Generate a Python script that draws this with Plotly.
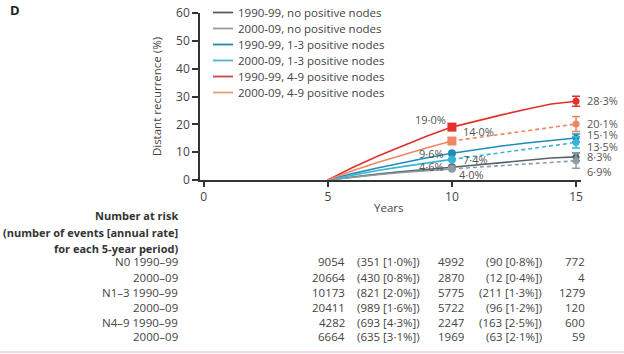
import plotly.graph_objects as go

# ---------------- data ----------------
years_a = [5, 6, 7, 8, 9, 10]
years_b = [10, 11, 12, 13, 14, 15]

series_names = [
    "1990-99, no positive nodes",
    "2000-09, no positive nodes",
    "1990-99, 1-3 positive nodes",
    "2000-09, 1-3 positive nodes",
    "1990-99, 4-9 positive nodes",
    "2000-09, 4-9 positive nodes",
]
# cumulative distant recurrence (%), years 5..10 and 10..15
n0_1990_a = [0, 1.1, 2.1, 3.0, 3.9, 4.6]
n0_1990_b = [4.6, 5.4, 6.3, 7.2, 7.9, 8.3]
n0_2000_a = [0, 1.0, 1.9, 2.7, 3.4, 4.0]
n0_2000_b = [4.0, 4.6, 5.2, 5.8, 6.4, 6.9]
n13_1990_a = [0, 2.3, 4.3, 6.2, 8.0, 9.6]
n13_1990_b = [9.6, 11.0, 12.2, 13.3, 14.3, 15.1]
n13_2000_a = [0, 1.8, 3.4, 4.8, 6.2, 7.4]
n13_2000_b = [7.4, 8.6, 9.8, 11.0, 12.3, 13.5]
n49_1990_a = [0, 4.5, 8.5, 12.2, 15.8, 19.0]
n49_1990_b = [19.0, 21.3, 23.4, 25.4, 27.3, 28.3]
n49_2000_a = [0, 3.3, 6.3, 9.0, 11.6, 14.0]
n49_2000_b = [14.0, 15.2, 16.4, 17.6, 18.8, 20.1]

curves_a = [n0_1990_a, n0_2000_a, n13_1990_a, n13_2000_a, n49_1990_a, n49_2000_a]
curves_b = [n0_1990_b, n0_2000_b, n13_1990_b, n13_2000_b, n49_1990_b, n49_2000_b]
is_recent = [False, True, False, True, False, True]

# error (half-width, %) at year 15
err15 = [1.4, 2.7, 1.4, 2.0, 1.8, 2.7]

labels10 = ["4·6%", "4·0%", "9·6%", "7·4%", "19·0%", "14·0%"]
labels15 = ["8·3%", "6·9%", "15·1%", "13·5%", "28·3%", "20·1%"]

x_ticks = [0, 5, 10, 15]
y_ticks = [0, 10, 20, 30, 40, 50, 60]

risk_row_labels = ["N0 1990–99", "2000–09", "N1–3 1990–99", "2000–09", "N4–9 1990–99", "2000–09"]
risk_at0 = ["9054", "20664", "10173", "20411", "4282", "6664"]
events_0_5 = ["(351 [1·0%])", "(430 [0·8%])", "(821 [2·0%])", "(989 [1·6%])", "(693 [4·3%])", "(635 [3·1%])"]
risk_at5 = ["4992", "2870", "5775", "5722", "2247", "1969"]
events_5_10 = ["(90 [0·8%])", "(12 [0·4%])", "(211 [1·3%])", "(96 [1·2%])", "(163 [2·5%])", "(63 [2·1%])"]
risk_at10 = ["772", "4", "1279", "120", "600", "59"]

# ---------------- style ----------------
colors = ["#56646c", "#8e9ca4", "#1f8db5", "#38b4d8", "#e0312b", "#f08563"]
legend_colors = ["#5a5a5a", "#9a9a9a", "#1f8aa8", "#4ab6d6", "#c9473f", "#eb9a7c"]
marker10 = ["circle", "circle", "circle", "circle", "square", "square"]
FONT = "Open Sans"
TXT = "#444444"

W, H = 624, 354
L, R, T, B = 200, 43, 13, 174
PW, PH = W - L - R, H - T - B


def px(xp):
    return (xp - L) / PW


def py(yp):
    return (H - B - yp) / PH


fig = go.Figure()

for i, name in enumerate(series_names):
    c = colors[i]
    fig.add_trace(go.Scatter(x=years_a, y=curves_a[i], mode="lines", name=name,
                             line=dict(color=c, width=1.6), showlegend=False))
    fig.add_trace(go.Scatter(x=years_b, y=curves_b[i], mode="lines", showlegend=False,
                             line=dict(color=c, width=1.6, dash="4px,3px" if is_recent[i] else "solid"),
                             hoverinfo="skip"))
    fig.add_trace(go.Scatter(x=[years_b[0]], y=[curves_b[i][0]], mode="markers", showlegend=False,
                             marker=dict(color=c, size=9 if marker10[i] == "square" else 8,
                                         symbol=marker10[i])))
    fig.add_trace(go.Scatter(x=[years_b[-1]], y=[curves_b[i][-1]], mode="markers", showlegend=False,
                             marker=dict(color=c, size=7, symbol="circle"),
                             error_y=dict(type="data", array=[err15[i]], color=c, thickness=1.5, width=4)))

# manual legend (16 px rows)
for i, name in enumerate(series_names):
    yy = 12.5 + 16 * i
    fig.add_shape(type="line", xref="paper", yref="paper", x0=px(213), x1=px(233), y0=py(yy), y1=py(yy),
                  line=dict(color=legend_colors[i], width=1.8))
    fig.add_annotation(x=px(236), y=py(yy), xref="paper", yref="paper", text=name, showarrow=False,
                       xanchor="left", yanchor="middle",
                       font=dict(family=FONT, size=11.5, color=TXT))

# point labels
off10 = [(-6, 1, "right"), (5, -6, "left"), (-6, 0, "right"), (9, 0, "left"), (-4, 8, "right"), (9, 10, "left")]
off15 = [(9, 0, "left"), (9, -11, "left"), (9, 3, "left"), (9, -4, "left"), (9, 1, "left"), (9, 1, "left")]
for i in range(6):
    dx, dy, anc = off10[i]
    fig.add_annotation(x=years_b[0], y=curves_b[i][0], text=labels10[i], showarrow=False,
                       xanchor=anc, yanchor="middle", xshift=dx, yshift=dy,
                       font=dict(family=FONT, size=11, color="#555555"))
    dx, dy, anc = off15[i]
    fig.add_annotation(x=years_b[-1], y=curves_b[i][-1], text=labels15[i], showarrow=False,
                       xanchor=anc, yanchor="middle", xshift=dx, yshift=dy,
                       font=dict(family=FONT, size=11, color="#555555"))

# panel letter
fig.add_annotation(x=px(8), y=py(10), xref="paper", yref="paper", text="<b>D</b>", showarrow=False,
                   xanchor="left", yanchor="middle", font=dict(family=FONT, size=13, color="#222222"))

# Years label
fig.add_annotation(x=px(388), y=py(207), xref="paper", yref="paper", text="Years", showarrow=False,
                   xanchor="center", yanchor="middle", font=dict(family=FONT, size=11.5, color=TXT))

# number at risk table
header = ["Number at risk", "(number of events [annual rate]", "for each 5-year period)"]
header_y = [215, 232, 248]
for t, yy in zip(header, header_y):
    fig.add_annotation(x=px(180), y=py(yy), xref="paper", yref="paper", text="<b>" + t + "</b>",
                       showarrow=False, xanchor="right", yanchor="middle",
                       font=dict(family=FONT, size=11, color="#333333"))

row_y = [261, 277, 292, 307, 322, 336]
cols = [(180, risk_row_labels), (347, risk_at0), (422, events_0_5), (466, risk_at5),
        (544, events_5_10), (587, risk_at10)]
for xr, vals in cols:
    for v, yy in zip(vals, row_y):
        fig.add_annotation(x=px(xr), y=py(yy), xref="paper", yref="paper", text=v, showarrow=False,
                           xanchor="right", yanchor="middle",
                           font=dict(family=FONT, size=11.5, color=TXT))

# bottom rule
fig.add_shape(type="line", xref="paper", yref="paper", x0=px(0), x1=px(W), y0=py(352), y1=py(352),
              line=dict(color="#e8b4cc", width=1.2))

fig.update_layout(
    width=W, height=H,
    margin=dict(l=L, r=R, t=T, b=B, pad=0, autoexpand=False),
    paper_bgcolor="white", plot_bgcolor="white",
    font=dict(family=FONT, size=11, color=TXT),
    showlegend=False,
    xaxis=dict(range=[-0.15, 15.2], tickvals=x_ticks, showgrid=False, zeroline=False, automargin=False,
               showline=True, linecolor="#333333", linewidth=1.5, ticks="outside", ticklen=5,
               tickwidth=1.5, tickcolor="#333333", tickfont=dict(size=12, color=TXT)),
    yaxis=dict(range=[0, 60], tickvals=y_ticks, showgrid=False, zeroline=False, automargin=False,
               showline=True, linecolor="#333333", linewidth=1.5, ticks="outside", ticklen=6,
               tickwidth=1.5, tickcolor="#333333", tickfont=dict(size=12, color=TXT),
               title=dict(text="Distant recurrence (%)", font=dict(size=11.5, color=TXT), standoff=12)),
)

fig.write_html("out.html")
